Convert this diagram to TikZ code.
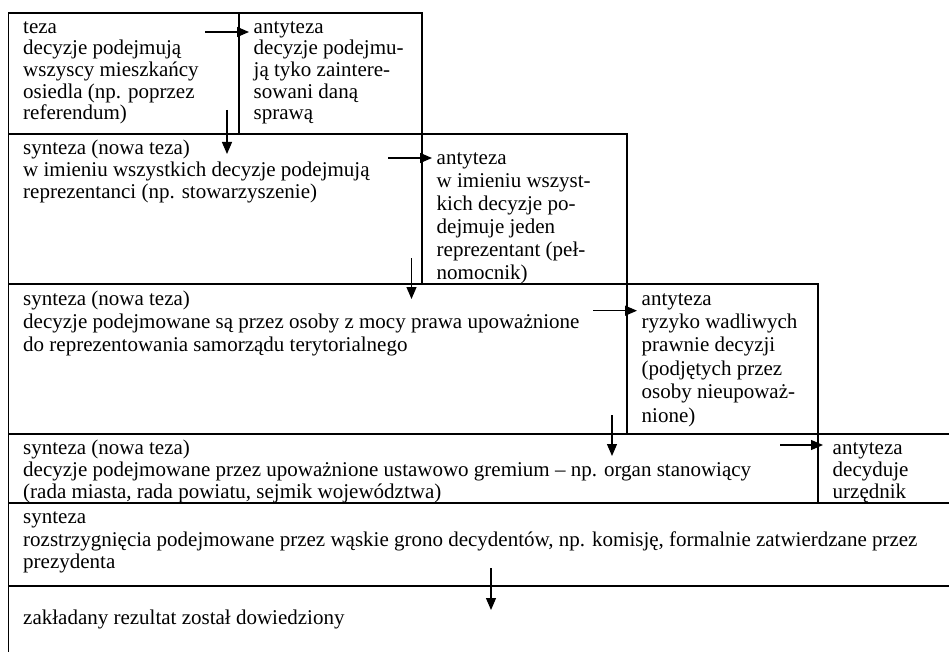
\documentclass[tikz,border=0pt]{standalone}
\usepackage{fontspec}
\setmainfont{Liberation Serif}
\usetikzlibrary{arrows.meta}
\tikzset{
	cell/.style={anchor=north west, inner sep=0pt, align=left, font=\fontsize{21}{#1}\selectfont},
	cell/.default=21.7,
	pil/.style={-{Triangle[length=12pt,width=10pt]}, line width=1.2pt},
	rahmen/.style={line width=1.8pt}
}

\begin{document}
\begin{tikzpicture}[x=1pt,y=-1pt]
	\useasboundingbox (0,0) rectangle (949,652);
	\clip (0,0) rectangle (949,652);
	\draw[rahmen] (8.5,665) -- (8.5,12.7) -- (422,12.7) -- (422,284);
	\draw[rahmen] (239,12.7) -- (239,134);
	\draw[rahmen] (8.5,134) -- (627,134) -- (627,434);
	\draw[rahmen] (8.5,284) -- (818,284) -- (818,503);
	\draw[rahmen] (8.5,434) -- (960,434);
	\draw[rahmen] (8.5,503) -- (960,503);
	\draw[rahmen] (8.5,586) -- (960,586);
	\node[cell] (teza) at (23,17.8) {\strut teza\\decyzje podejmują\\wszyscy mieszkańcy\\osiedla (np. poprzez\\referendum)};
	\node[cell] (anty1) at (253.5,17.8) {\strut antyteza\\decyzje podejmu-\\ją tyko zaintere-\\sowani daną\\sprawą};
	\node[cell=22] (synt1) at (23,138.9) {\strut synteza (nowa teza)\\w imieniu wszystkich decyzje podejmują\\reprezentanci (np. stowarzyszenie)};
	\node[cell=23] (anty2) at (436.5,147.9) {\strut antyteza\\w imieniu wszyst-\\kich decyzje po-\\dejmuje jeden\\reprezentant (peł-\\nomocnik)};
	\node[cell=23.4] (synt2) at (23,288.6) {\strut synteza (nowa teza)\\decyzje podejmowane są przez osoby z mocy prawa upoważnione\\do reprezentowania samorządu terytorialnego};
	\node[cell=23.4] (anty3) at (641.5,288.6) {\strut antyteza\\ryzyko wadliwych\\prawnie decyzji\\(podjętych przez\\osoby nieupoważ-\\nione)};
	\node[cell=22] (synt3) at (23,438.6) {\strut synteza (nowa teza)\\decyzje podejmowane przez upoważnione ustawowo gremium – np. organ stanowiący\\(rada miasta, rada powiatu, sejmik województwa)};
	\node[cell=22] (anty4) at (832.5,438.6) {\strut antyteza\\decyduje\\urzędnik};
	\node[cell=22.5] (synt4) at (23,507.6) {\strut synteza\\rozstrzygnięcia podejmowane przez wąskie grono decydentów, np. komisję, formalnie zatwierdzane przez\\prezydenta};
	\node[cell] (wynik) at (23,608.8) {\strut zakładany rezultat został dowiedziony};
	\coordinate (h1s) at (205,32);    \coordinate (h1e) at (249,32);
	\coordinate (v1s) at (227,110);   \coordinate (v1e) at (227,154);
	\coordinate (h2s) at (388,158);   \coordinate (h2e) at (432,158);
	\coordinate (v2s) at (411.5,258); \coordinate (v2e) at (411.5,299);
	\coordinate (h3s) at (593,310.7); \coordinate (h3e) at (637,310.7);
	\coordinate (v3s) at (612,415);   \coordinate (v3e) at (612,456);
	\coordinate (h4s) at (780,445);   \coordinate (h4e) at (823,445);
	\coordinate (v4s) at (491,568);   \coordinate (v4e) at (491,610);
	\draw[pil] (h1s) -- (h1e);
	\draw[pil] (v1s) -- (v1e);
	\draw[pil] (h2s) -- (h2e);
	\draw[pil] (v2s) -- (v2e);
	\draw[pil] (h3s) -- (h3e);
	\draw[pil] (v3s) -- (v3e);
	\draw[pil] (h4s) -- (h4e);
	\draw[pil] (v4s) -- (v4e);
\end{tikzpicture}
\end{document}
